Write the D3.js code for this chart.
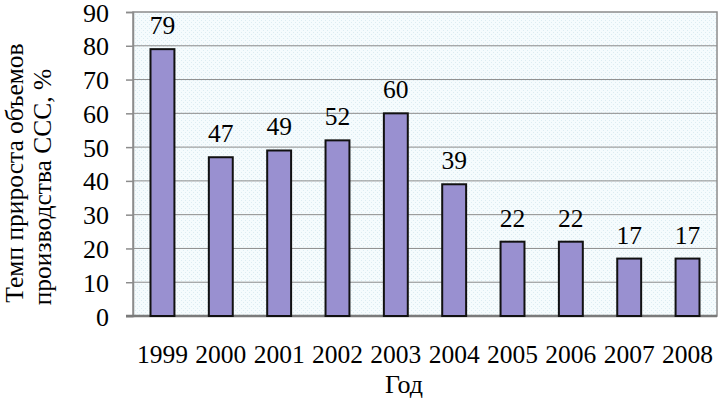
<!DOCTYPE html>
<html>
<head>
<meta charset="utf-8">
<script src="https://cdn.jsdelivr.net/npm/d3@7"></script>
<style>
  body { margin: 0; background: #fff; }
</style>
</head>
<body>
<div class="canvas"></div>
<script>
const svgWidth = 719;
const svgHeight = 399;
const serif = 'Liberation Serif';

// data
const years = ['1999', '2000', '2001', '2002', '2003', '2004', '2005', '2006', '2007', '2008'];
const growth = [79, 47, 49, 52, 60, 39, 22, 22, 17, 17];
const yTicks = [0, 10, 20, 30, 40, 50, 60, 70, 80, 90];
const yTitle = ['Темп прироста объемов', 'производства ССС, %'];
const xTitle = 'Год';

const svg = d3.select('.canvas')
    .append('svg')
    .attr('width', svgWidth)
    .attr('height', svgHeight);

// plot area
const margin = { top: 12, right: 2, bottom: 83, left: 133 };
const graphWidth = svgWidth - margin.left - margin.right;
const graphHeight = svgHeight - margin.top - margin.bottom;

// dotted background like the office chart
const defs = svg.append('defs');
const pat = defs.append('pattern')
    .attr('id', 'dots')
    .attr('width', 4)
    .attr('height', 4)
    .attr('patternUnits', 'userSpaceOnUse');
pat.append('rect').attr('width', 4).attr('height', 4).attr('fill', '#f5fbfd');
pat.append('rect').attr('x', 0).attr('y', 0).attr('width', 1).attr('height', 1).attr('fill', '#dcecf2');
pat.append('rect').attr('x', 2).attr('y', 2).attr('width', 1).attr('height', 1).attr('fill', '#dcecf2');

const graph = svg.append('g')
    .attr('transform', `translate(${margin.left}, ${margin.top})`);

graph.append('rect')
    .attr('width', graphWidth)
    .attr('height', graphHeight)
    .attr('fill', 'url(#dots)')
    .attr('stroke', '#8c8c8c')
    .attr('stroke-width', 1.5);

// scales
const y = d3.scaleLinear()
    .domain([0, 90])
    .range([graphHeight, 0]);

const x = d3.scaleBand()
    .domain(years)
    .range([0, graphWidth])
    .paddingInner(0.59)
    .paddingOuter(0.3);

// gridlines
graph.append('g')
    .selectAll('line')
    .data(yTicks.filter(d => d > 0 && d < 90))
    .enter()
    .append('line')
    .attr('x1', 0)
    .attr('x2', graphWidth)
    .attr('y1', d => y(d))
    .attr('y2', d => y(d))
    .attr('stroke', '#8c8c8c')
    .attr('stroke-width', 1);

// y axis
const yAxis = d3.axisLeft(y)
    .tickValues(yTicks)
    .tickSize(7)
    .tickPadding(17);
const yAxisGroup = graph.append('g').call(yAxis);
yAxisGroup.select('.domain').attr('stroke', '#8c8c8c').attr('stroke-width', 1.5);
yAxisGroup.selectAll('.tick line').attr('stroke', '#8c8c8c').attr('stroke-width', 1.5);
yAxisGroup.selectAll('text')
    .attr('font-family', serif)
    .attr('font-size', 26)
    .attr('fill', '#000')
    .attr('dy', '0.35em');

// x axis
const xAxis = d3.axisBottom(x).tickSize(0).tickPadding(29);
const xAxisGroup = graph.append('g')
    .attr('transform', `translate(0, ${graphHeight})`)
    .call(xAxis);
xAxisGroup.select('.domain').remove();
xAxisGroup.selectAll('text')
    .attr('font-family', serif)
    .attr('font-size', 25.5)
    .attr('fill', '#000');
graph.append('line')
    .attr('x1', -7)
    .attr('x2', graphWidth)
    .attr('y1', graphHeight)
    .attr('y2', graphHeight)
    .attr('stroke', '#7a7a7a')
    .attr('stroke-width', 2.5);

// bars
const rows = years.map((yr, i) => ({ year: yr, value: growth[i] }));
graph.selectAll('rect.bar')
    .data(rows)
    .enter()
    .append('rect')
    .attr('class', 'bar')
    .attr('x', d => x(d.year))
    .attr('y', d => y(d.value))
    .attr('width', x.bandwidth())
    .attr('height', d => graphHeight - y(d.value))
    .attr('fill', '#9990d0')
    .attr('stroke', '#111')
    .attr('stroke-width', 2);

// value labels
graph.selectAll('text.val')
    .data(rows)
    .enter()
    .append('text')
    .attr('class', 'val')
    .attr('x', d => x(d.year) + x.bandwidth() / 2)
    .attr('y', d => y(d.value) - 15)
    .attr('text-anchor', 'middle')
    .attr('font-family', serif)
    .attr('font-size', 25.5)
    .text(d => d.value);

// axis titles (two rotated lines, second one sits a bit lower like in the original)
const yt = svg.append('text')
    .attr('transform', `translate(23, 173) rotate(-90)`)
    .attr('text-anchor', 'middle')
    .attr('font-family', serif)
    .attr('font-size', 25.5);
yt.selectAll('tspan')
    .data(yTitle)
    .enter()
    .append('tspan')
    .attr('x', (d, i) => i === 0 ? 0 : -14)
    .attr('y', (d, i) => i === 0 ? 0 : 28)
    .text(d => d);

svg.append('text')
    .attr('x', 404)
    .attr('y', 393)
    .attr('text-anchor', 'middle')
    .attr('font-family', serif)
    .attr('font-size', 26)
    .text(xTitle);
</script>
</body>
</html>
